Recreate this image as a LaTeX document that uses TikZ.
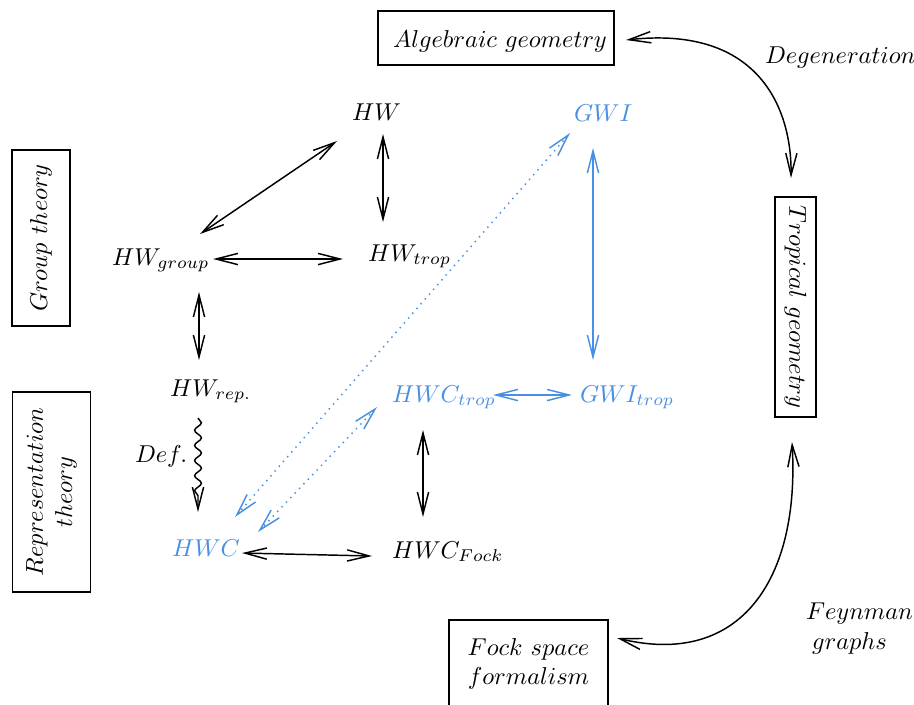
\documentclass[tikz,border=0pt]{standalone}
\usetikzlibrary{arrows.meta,calc,decorations.pathmorphing}
\definecolor{linkblue}{RGB}{74,144,226}
\newdimen\pxu
\pxu=0.4098pt
\begin{document}
\begin{tikzpicture}[x=0.4098pt,y=-0.4098pt,
  every node/.style={inner sep=0pt, outer sep=0pt},
  term/.style={anchor=base west},
  hl/.style={text=linkblue},
  fieldbox/.style={draw, line width=0.6pt, inner sep=0pt, align=center},
  barb/.tip={Straight Barb[length=9pt,width=4.6pt,line width=0.6pt]},
  link/.style={line width=0.6pt, barb-barb},
  bluelink/.style={link, draw=linkblue},
  dottedlink/.style={bluelink, dotted},
  defarrow/.style={line width=0.6pt, -barb, decorate,
    decoration={snake, amplitude=1.4pt, segment length=6.2pt, post length=6pt}},
]
\clip (0,0) rectangle (914,704);

% fields of mathematics
\node[fieldbox, minimum width=236\pxu, minimum height=54\pxu, text height=10pt, text depth=1.94pt] (alg) at (496,38) {$\ Algebraic\ geometry$};
\node[fieldbox, rotate=90, minimum width=176\pxu, minimum height=58\pxu] (grp) at (41,238) {$Group\ theory$};
\node[fieldbox, rotate=90, minimum width=200\pxu, minimum height=78\pxu] (rep) at (51.5,492) {$Representation$\\$theory$};
\node[fieldbox, rotate=-90, minimum width=220\pxu, minimum height=41\pxu] (trop) at (795.5,307) {$Tropical\ geometry$};
\node[fieldbox, anchor=north, minimum width=159\pxu, minimum height=88\pxu] (fock) at (528.5,620) {$Fock\ space$\\$formalism$};

% objects
\node[term] (hw) at (352,120) {$HW$};
\node[term, hl] (gwi) at (574,121) {$GWI$};
\node[term] (hwg) at (112,265) {$HW_{group}$};
\node[term] (hwt) at (368,261) {$HW_{trop}$};
\node[term] (hwr) at (170,396) {$HW_{rep.}$};
\node[term, hl] (hwct) at (392,402) {$HWC_{trop}$};
\node[term, hl] (gwit) at (580,402) {$GWI_{trop}$};
\node[term, hl] (hwc) at (172,556) {$HWC$};
\node[term] (hwcf) at (392,558) {$HWC_{Fock}$};

% labels
\node[term] (def) at (135,462) {$Def.$};
\node[term] (degen) at (765,63) {$Degeneration$};
\node[align=left, anchor=north west] (feyn) at (806,603.3) {$Feynman$\\\hspace{2.5pt}$graphs$};

% relations between fields
\draw[link] ($(alg.east)+(12,2)$) .. controls +(134,-15) and +(1,-68) .. ($(trop.center)+(-4.5,-129)$);
\draw[link] ($(fock.north)+(88.5,18)$) .. controls +(123,30) and +(8,138) .. ($(trop.center)+(-3.5,135)$);

% relations between objects
\draw[link] ($(hw.base west)+(-15,21)$) -- ($(hwg.base west)+(88,-31)$);
\draw[link] ($(hw.base west)+(31,14)$) -- ($(hwt.base west)+(15,-39)$);
\draw[link] ($(hwg.base west)+(101,-6)$) -- ($(hwt.base west)+(-25,-2)$);
\draw[link] ($(hwg.base west)+(87,27)$) -- ($(hwr.base west)+(29,-36)$);
\draw[defarrow] ($(hwr.base west)+(28,22)$) -- ($(hwc.base west)+(26,-44)$);
\draw[link] ($(hwct.base west)+(31,28)$) -- ($(hwcf.base west)+(31,-41)$);
\draw[link] ($(hwc.base west)+(70,-3)$) -- ($(hwcf.base west)+(-20,-2)$);
\draw[bluelink] ($(hwct.base west)+(101,-7)$) -- ($(gwit.base west)+(-8,-7)$);
\draw[bluelink] ($(gwi.base west)+(19,27)$) -- ($(gwit.base west)+(13,-42)$);
\draw[dottedlink] ($(gwi.base west)+(-4,12)$) -- ($(hwc.base west)+(63,-39)$);
\draw[dottedlink] ($(hwct.base west)+(-15,5)$) -- ($(hwc.base west)+(86,-24)$);
\end{tikzpicture}
\end{document}
